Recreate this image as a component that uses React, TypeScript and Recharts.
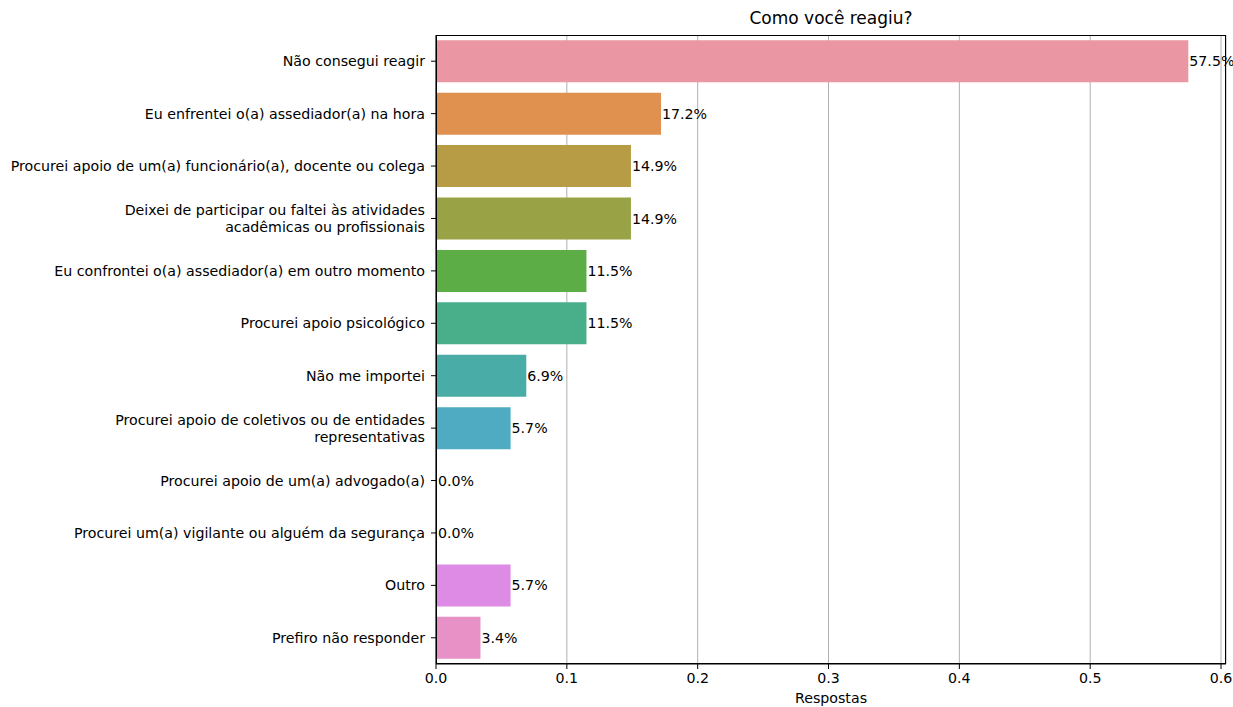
import { Bar, BarChart, CartesianGrid, Cell, LabelList, XAxis, YAxis } from "recharts";

const categories = [
  "Não consegui reagir",
  "Eu enfrentei o(a) assediador(a) na hora",
  "Procurei apoio de um(a) funcionário(a), docente ou colega",
  "Deixei de participar ou faltei às atividades\nacadêmicas ou profissionais",
  "Eu confrontei o(a) assediador(a) em outro momento",
  "Procurei apoio psicológico",
  "Não me importei",
  "Procurei apoio de coletivos ou de entidades\nrepresentativas",
  "Procurei apoio de um(a) advogado(a)",
  "Procurei um(a) vigilante ou alguém da segurança",
  "Outro",
  "Prefiro não responder",
];

const shares = [0.575, 0.172, 0.149, 0.149, 0.115, 0.115, 0.069, 0.057, 0, 0, 0.057, 0.034];

const barColors = [
  "#ea96a3",
  "#e1914f",
  "#b79b45",
  "#99a345",
  "#5dad47",
  "#48af8a",
  "#49aca6",
  "#4eabc1",
  "#7fa2e6",
  "#b592e8",
  "#de8be6",
  "#e891c6",
];

const xTicks = [0, 0.1, 0.2, 0.3, 0.4, 0.5, 0.6];

const data = categories.map((name, i) => ({ name, value: shares[i] }));

const FONT = "'DejaVu Sans', sans-serif";
const FS = 14.2;

function CategoryTick(props: any) {
  const { x, y, payload } = props;
  const lines = String(payload.value).split("\n");
  const lh = 17;
  const start = -((lines.length - 1) * lh) / 2;
  return (
    <text x={x} y={y} textAnchor="end" fontSize={FS} fontFamily={FONT} fill="#000">
      {lines.map((l, i) => (
        <tspan key={i} x={x} y={y + start + i * lh} dy="0.35em">
          {l}
        </tspan>
      ))}
    </text>
  );
}

export default function App() {
  return (
    <div style={{ position: "absolute", left: 0, top: 0, width: 1233, height: 707, background: "#fff" }}>
      <div
        style={{
          position: "absolute",
          left: 436,
          width: 790,
          top: 8,
          textAlign: "center",
          fontFamily: FONT,
          fontSize: 17,
          color: "#000",
        }}
      >
        Como você reagiu?
      </div>
      <BarChart
        width={1233}
        height={707}
        data={data}
        layout="vertical"
        margin={{ top: 35, right: 7, bottom: 0, left: 0 }}
        barCategoryGap="10%"
      >
        <CartesianGrid horizontal={false} stroke="#b0b0b0" strokeWidth={1} />
        <XAxis
          type="number"
          domain={[0, 0.6038]}
          ticks={xTicks}
          tickFormatter={(v: number) => v.toFixed(1)}
          height={43}
          tickSize={5}
          tickMargin={4}
          stroke="#000"
          tick={{ fill: "#000", fontSize: FS, fontFamily: FONT }}
          allowDataOverflow
          label={{ value: "Respostas", position: "insideBottom", offset: 4, fill: "#000", fontSize: FS, fontFamily: FONT }}
        />
        <YAxis
          type="category"
          dataKey="name"
          width={436}
          tickSize={5}
          tickMargin={6}
          stroke="#000"
          interval={0}
          tick={<CategoryTick />}
        />
        <Bar dataKey="value" isAnimationActive={false} minPointSize={1}>
          {data.map((d, i) => (
            <Cell key={d.name} fill={barColors[i]} />
          ))}
          <LabelList
            dataKey="value"
            position="right"
            offset={1}
            formatter={(v: any) => `${(Number(v) * 100).toFixed(1)}%`}
            style={{ fill: "#000", fontSize: FS, fontFamily: FONT }}
          />
        </Bar>
      </BarChart>
      <div
        style={{
          position: "absolute",
          left: 435.5,
          top: 34.5,
          width: 790,
          height: 629,
          border: "1px solid #000",
          boxSizing: "border-box",
          pointerEvents: "none",
        }}
      />
    </div>
  );
}
